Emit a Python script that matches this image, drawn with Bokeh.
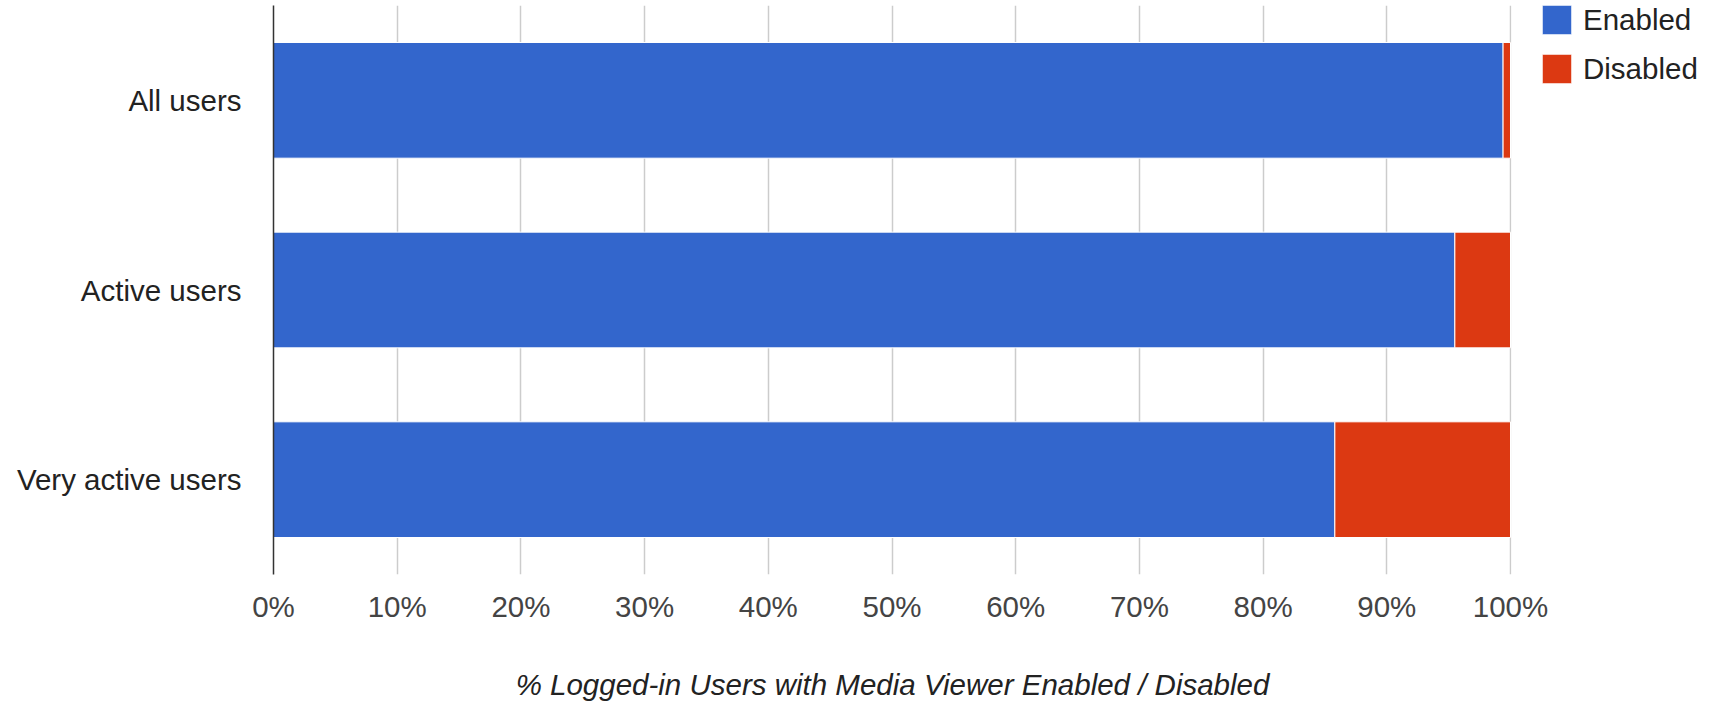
from bokeh.plotting import figure
from bokeh.models import (FactorRange, Range1d, Legend, LegendItem, NumeralTickFormatter,
                          FixedTicker, ColumnDataSource)
from bokeh.embed import file_html
from bokeh.resources import INLINE

# ---- data ----
categories = ["All users", "Active users", "Very active users"]
enabled = [99.4, 95.5, 85.8]
disabled = [0.6, 4.5, 14.2]
series_names = ["Enabled", "Disabled"]
series_colors = ["#3366cc", "#dc3912"]
x_ticks = [0, 10, 20, 30, 40, 50, 60, 70, 80, 90, 100]
x_title = "% Logged-in Users with Media Viewer Enabled / Disabled"

FONT = "Liberation Sans"
FS = "29.5px"

src = ColumnDataSource(dict(
    cat=categories,
    enabled=[v / 100 for v in enabled],
    disabled=[v / 100 for v in disabled],
))

FRAME_H = 569
p = figure(
    y_range=FactorRange(factors=list(reversed(categories)), range_padding=0),
    x_range=Range1d(0, 1.0008),
    frame_width=1238, frame_height=FRAME_H,
    min_border_left=273, min_border_right=196, min_border_top=5, min_border_bottom=127,
    output_backend="svg", toolbar_location=None,
)
p.outline_line_color = None
p.background_fill_color = "white"
p.border_fill_color = "white"

renderers = p.hbar_stack(
    ["enabled", "disabled"], y="cat", height=0.61, source=src,
    color=series_colors, line_color="white", line_width=1,
)

# x axis
p.xaxis.ticker = FixedTicker(ticks=[t / 100 for t in x_ticks])
p.xaxis.formatter = NumeralTickFormatter(format="0%")
p.xaxis.axis_line_color = None
p.xaxis.major_tick_line_color = None
p.xaxis.minor_tick_line_color = None
p.xaxis.major_tick_out = 0
p.xaxis.major_tick_in = 0
p.xaxis.major_label_standoff = 15
p.xaxis.major_label_text_font = FONT
p.xaxis.major_label_text_font_size = FS
p.xaxis.major_label_text_color = "#444444"
p.xaxis.axis_label = x_title
p.xaxis.axis_label_text_font = FONT
p.xaxis.axis_label_text_font_size = FS
p.xaxis.axis_label_text_font_style = "italic"
p.xaxis.axis_label_text_color = "#222222"
p.xaxis.axis_label_standoff = 42

# y axis
p.yaxis.axis_line_color = "#333333"
p.yaxis.axis_line_width = 1.5
p.yaxis.major_tick_line_color = None
p.yaxis.minor_tick_line_color = None
p.yaxis.major_tick_out = 0
p.yaxis.major_tick_in = 0
p.yaxis.major_label_standoff = 32
p.yaxis.major_label_text_font = FONT
p.yaxis.major_label_text_font_size = FS
p.yaxis.major_label_text_color = "#222222"

# grids
p.ygrid.grid_line_color = None
p.xgrid.grid_line_color = "#cccccc"
p.xgrid.grid_line_width = 1.5

LEG_H = 37 * 2 + 12
legend = Legend(
    items=[LegendItem(label=n, renderers=[r]) for n, r in zip(series_names, renderers)],
    location=(27, FRAME_H - LEG_H + 4),
    margin=0, padding=0, spacing=12,
    glyph_width=37, glyph_height=37, label_standoff=8,
    label_text_font=FONT, label_text_font_size=FS, label_text_color="#222222",
    border_line_color=None, background_fill_alpha=0,
)
p.add_layout(legend, "right")

open("out.html", "w").write(file_html(p, INLINE))
